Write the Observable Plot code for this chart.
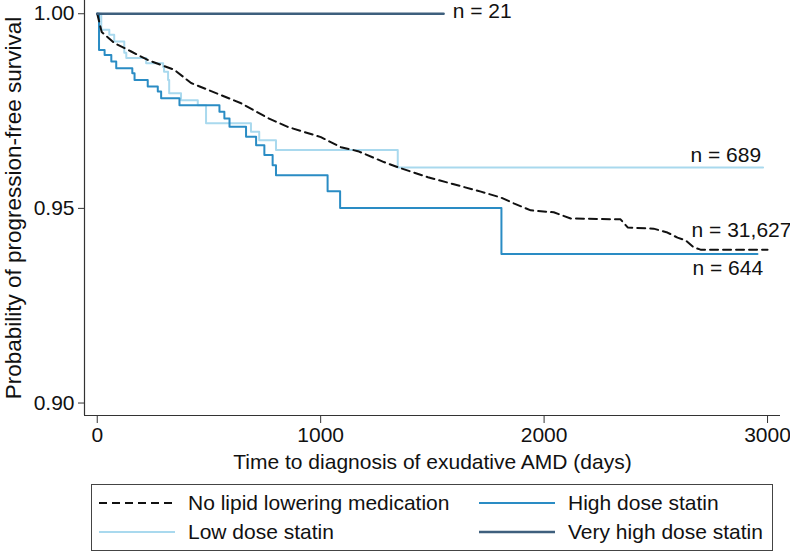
<!DOCTYPE html>
<html>
<head>
<meta charset="utf-8">
<script src="https://cdn.jsdelivr.net/npm/d3@7"></script>
<script src="https://cdn.jsdelivr.net/npm/@observablehq/plot@0.6"></script>
<style>
  body { margin: 0; background: #fff; font-family: "Liberation Sans", Arial, sans-serif; }
  #wrap { position: relative; width: 790px; height: 553px; }
  #legend { position: absolute; left: 91px; top: 484px; width: 680px; height: 65px; border: 1px solid #444; }
  .item { position: absolute; height: 24px; display: flex; align-items: center; font-size: 21px; color: #111; white-space: nowrap; }
  .item svg { margin-right: 13px; }
</style>
</head>
<body>
<div id="wrap">
  <div id="chart"></div>
  <div id="legend"></div>
</div>
<script>
// ---- data ----
const seriesNames = ["No lipid lowering medication", "Low dose statin", "High dose statin", "Very high dose statin"];
const seriesColors = ["#111111", "#a9d9ee", "#2a8cc4", "#3e5f7d"];
const seriesDash = ["8,5", null, null, null];

// No lipid lowering medication (large group, near-continuous curve)
const noLipidDays = [0, 20, 76, 152, 227, 345, 420, 554, 644, 764, 854, 1001, 1091, 1167, 1283, 1359, 1480, 1596, 1717, 1806, 1864, 1940, 2043, 2119, 2342, 2374, 2490, 2552, 2597, 2633, 2669, 2700, 3000];
const noLipidSurv = [1.0, 0.9953, 0.9925, 0.9903, 0.9881, 0.9856, 0.9822, 0.9791, 0.9770, 0.9732, 0.9709, 0.9683, 0.9657, 0.9647, 0.9619, 0.9603, 0.9580, 0.9562, 0.9543, 0.9528, 0.9513, 0.9495, 0.9490, 0.9474, 0.9472, 0.9451, 0.9448, 0.9438, 0.9425, 0.9418, 0.9400, 0.9394, 0.9394];

// Low dose statin (step function)
const lowDays = [0, 18, 54, 76, 121, 130, 219, 295, 299, 317, 322, 375, 450, 487, 688, 725, 800, 1345, 2980];
const lowSurv = [1.0, 0.9959, 0.9946, 0.9929, 0.9900, 0.9886, 0.9873, 0.9863, 0.9851, 0.9830, 0.9796, 0.9778, 0.9765, 0.9719, 0.9697, 0.9675, 0.9650, 0.9605, 0.9605];

// High dose statin (step function)
const highDays = [0, 8, 33, 63, 85, 157, 167, 226, 271, 286, 368, 547, 569, 592, 666, 711, 748, 785, 800, 1031, 1087, 1809, 2955];
const highSurv = [1.0, 0.9907, 0.9894, 0.9877, 0.9860, 0.9847, 0.9830, 0.9813, 0.9800, 0.9783, 0.9765, 0.9748, 0.9731, 0.9710, 0.9684, 0.9662, 0.9637, 0.9611, 0.9585, 0.9544, 0.9501, 0.9383, 0.9383];

// Very high dose statin
const veryHighDays = [0, 1550];
const veryHighSurv = [1.0, 1.0];

// group size labels
const labelText = ["n = 21", "n = 689", "n = 31,627", "n = 644"];
const labelDay = [1591, 2655, 2660, 2664];
const labelSurv = [1.0006, 0.9636, 0.9443, 0.9346];

const xTicks = [0, 1000, 2000, 3000];
const yTicks = [0.90, 0.95, 1.00];
const xDomain = [-57, 3058];
const yDomain = [0.8968, 1.0034];
const xTitle = "Time to diagnosis of exudative AMD (days)";
const yTitle = "Probability of progression-free survival";

// ---- build tables ----
const toRows = (days, surv) => days.map((d, i) => ({day: d, surv: surv[i]}));
const seriesRows = [
  toRows(noLipidDays, noLipidSurv),
  toRows(lowDays, lowSurv),
  toRows(highDays, highSurv),
  toRows(veryHighDays, veryHighSurv)
];
const seriesCurve = ["linear", "step-after", "step-after", "step-after"];
const seriesWidth = [2, 2, 2, 2.6];
const labels = labelText.map((t, i) => ({text: t, day: labelDay[i], surv: labelSurv[i]}));

// draw order: low, high, no-lipid, very high
const order = [1, 2, 0, 3];

const chart = Plot.plot({
  width: 790,
  height: 478,
  marginLeft: 84,
  marginRight: 10,
  marginTop: 0,
  marginBottom: 63,
  x: {domain: xDomain},
  y: {domain: yDomain},
  style: {fontFamily: "'Liberation Sans', Arial, sans-serif", fontSize: "21px", color: "#111", background: "transparent"},
  marks: [
    Plot.axisX(xTicks, {tickSize: 8, tickPadding: 4, tickFormat: d3.format("d"), label: null, fontSize: 21, stroke: "#333"}),
    Plot.axisY(yTicks, {tickSize: 6, tickPadding: 4, tickFormat: d3.format(".2f"), label: null, fontSize: 21, stroke: "#333"}),
    Plot.ruleX([xDomain[0]], {stroke: "#333", strokeWidth: 1.2}),
    Plot.ruleY([yDomain[0]], {stroke: "#333", strokeWidth: 1.2}),
    ...order.map(i => Plot.line(seriesRows[i], {
      x: "day", y: "surv",
      stroke: seriesColors[i],
      strokeWidth: seriesWidth[i],
      strokeDasharray: seriesDash[i] || undefined,
      curve: seriesCurve[i]
    })),
    Plot.text(labels, {x: "day", y: "surv", text: "text", textAnchor: "start", lineAnchor: "middle", fontSize: 21, fill: "#111"}),
    Plot.text([xTitle], {frameAnchor: "bottom", textAnchor: "middle", lineAnchor: "middle", dy: 47, fontSize: 21, fill: "#111"}),
    Plot.text([yTitle], {frameAnchor: "left", rotate: -90, textAnchor: "middle", lineAnchor: "middle", dx: -71, fontSize: 22.5, fill: "#111"})
  ]
});
document.getElementById("chart").appendChild(chart);

// ---- legend ----
const legend = document.getElementById("legend");
const legendPos = [
  {left: 7, top: 6},    // No lipid
  {left: 7, top: 35},   // Low dose
  {left: 387, top: 6},  // High dose
  {left: 387, top: 35}  // Very high
];
seriesNames.forEach((name, i) => {
  const div = document.createElement("div");
  div.className = "item";
  div.style.left = legendPos[i].left + "px";
  div.style.top = legendPos[i].top + "px";
  const dash = seriesDash[i] ? ` stroke-dasharray="${seriesDash[i]}"` : "";
  div.innerHTML = `<svg width="76" height="6"><line x1="0" y1="3" x2="76" y2="3" stroke="${seriesColors[i]}" stroke-width="${seriesWidth[i]}"${dash}/></svg><span>${name}</span>`;
  legend.appendChild(div);
});
</script>
</body>
</html>
